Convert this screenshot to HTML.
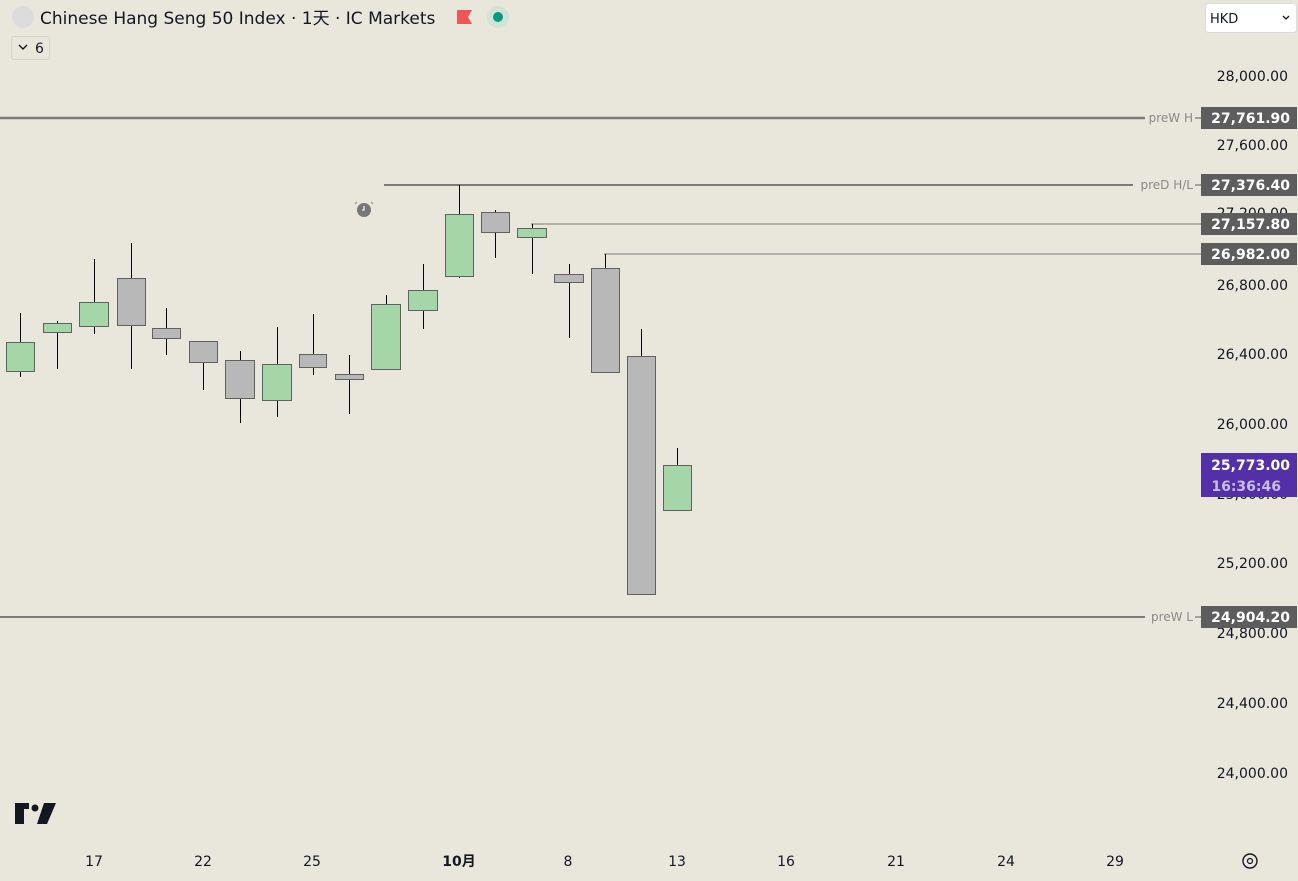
<!DOCTYPE html>
<html><head><meta charset="utf-8"><style>
html,body{margin:0;padding:0;width:1298px;height:881px;overflow:hidden;background:#e9e6dc;font-family:"DejaVu Sans","Noto Sans CJK SC",sans-serif}
</style></head><body>
<svg id="s" width="1298" height="881" xmlns="http://www.w3.org/2000/svg" style="position:absolute;left:0;top:0">
<rect width="1298" height="881" fill="#e9e6dc"/>
<circle cx="23" cy="17" r="11" fill="#dcdcdc"/>
<text x="40" y="24" font-size="17" fill="#131722" font-family="DejaVu Sans,Noto Sans CJK SC,sans-serif">Chinese Hang Seng 50 Index · 1天 · IC Markets</text>
<path d="M457 10h15l-4 7 4 7h-15z" fill="#f25555"/>
<circle cx="498" cy="17" r="11" fill="#cfe3d6"/>
<circle cx="498" cy="17" r="5" fill="#089981"/>
<rect x="11.5" y="36.5" width="38" height="23" rx="3" fill="#e9e6dc" stroke="#d8d5cc"/>
<path d="M19 45l4 4 4-4" stroke="#131722" stroke-width="1.4" fill="none"/>
<text x="35" y="53" font-size="14" fill="#131722">6</text>
<rect x="1205.5" y="3.5" width="91" height="29" rx="3" fill="#fff" stroke="#ddd"/>
<text x="1210" y="23" font-size="13" fill="#131722">HKD</text>
<path d="M1283 16l3 3 3-3" stroke="#131722" stroke-width="1.3" fill="none"/>
<g font-size="14" fill="#131722" text-anchor="end">
<text x="1288" y="81">28,000.00</text>
<text x="1288" y="150">27,600.00</text>
<text x="1288" y="218">27,200.00</text>
<text x="1288" y="290">26,800.00</text>
<text x="1288" y="359">26,400.00</text>
<text x="1288" y="429">26,000.00</text>
<text x="1288" y="499">25,600.00</text>
<text x="1288" y="568">25,200.00</text>
<text x="1288" y="638">24,800.00</text>
<text x="1288" y="708">24,400.00</text>
<text x="1288" y="778">24,000.00</text>
</g>
<line x1="0" y1="118" x2="1145" y2="118" stroke="#7a7a7a" stroke-width="2.5"/>
<line x1="384" y1="185" x2="1133" y2="185" stroke="#7a7a7a" stroke-width="2"/>
<line x1="531" y1="224" x2="1201" y2="224" stroke="#7a7a7a" stroke-width="1"/>
<line x1="604" y1="254" x2="1201" y2="254" stroke="#7a7a7a" stroke-width="1"/>
<line x1="0" y1="617" x2="1145" y2="617" stroke="#7a7a7a" stroke-width="2"/>
<g font-size="12" fill="#8a8a8a" text-anchor="end">
<text x="1193" y="122">preW H</text>
<text x="1193" y="189">preD H/L</text>
<text x="1193" y="621">preW L</text>
</g>
<line x1="1195" y1="118" x2="1201" y2="118" stroke="#888" stroke-width="1.5"/>
<line x1="1195" y1="185" x2="1201" y2="185" stroke="#888" stroke-width="1.5"/>
<line x1="1195" y1="617" x2="1201" y2="617" stroke="#888" stroke-width="1.5"/>
<g font-size="14" font-weight="bold" fill="#fff" text-anchor="end">
<rect x="1201" y="107" width="96" height="22" fill="#5d5d5d"/><text x="1290" y="123">27,761.90</text>
<rect x="1201" y="174" width="96" height="22" fill="#5d5d5d"/><text x="1290" y="190">27,376.40</text>
<rect x="1201" y="213" width="96" height="22" fill="#5d5d5d"/><text x="1290" y="229">27,157.80</text>
<rect x="1201" y="243" width="96" height="22" fill="#5d5d5d"/><text x="1290" y="259">26,982.00</text>
<rect x="1201" y="606" width="96" height="22" fill="#5d5d5d"/><text x="1290" y="622">24,904.20</text>
<rect x="1201" y="453" width="96" height="44" fill="#5330a8"/><text x="1290" y="470">25,773.00</text>
<text x="1281" y="491" fill="#c9bce8">16:36:46</text>
</g>
<circle cx="364" cy="210" r="7" fill="#777"/>
<path d="M364 206v4h-2" stroke="#eee" stroke-width="1.3" fill="none"/>
<path d="M357 202l-2 2M371 202l2 2" stroke="#999" stroke-width="1.2"/>
<g id="c"></g>
<path d="M15 803h14v6h-5v15h-9z" fill="#131722"/>
<circle cx="35" cy="808" r="3.5" fill="#131722"/>
<path d="M44 803h12l-9 21h-10z" fill="#131722"/>
<g font-size="14" fill="#131722" text-anchor="middle">
<text x="94" y="866">17</text><text x="203" y="866">22</text><text x="312" y="866">25</text>
<text x="459" y="866" font-weight="bold">10月</text><text x="568" y="866">8</text><text x="677" y="866">13</text>
<text x="786" y="866">16</text><text x="896" y="866">21</text><text x="1006" y="866">24</text><text x="1115" y="866">29</text>
</g>
<circle cx="1250" cy="861" r="7" fill="none" stroke="#131722" stroke-width="1.4"/>
<circle cx="1250" cy="861" r="2.5" fill="none" stroke="#131722" stroke-width="1.2"/>
</svg>
<script>
var d=[[6,34,342,371,313,377,1],[43,71,323,332,321,369,1],[79,108,302,326,259,334,1],[117,145,278,325,243,369,0],[152,180,328,338,308,355,0],[189,217,341,362,341,390,0],[225,254,360,398,351,423,0],[262,291,364,400,327,417,1],[299,326,354,367,314,375,0],[335,363,374,379,355,414,0],[371,400,304,369,295,369,1],[408,437,290,310,264,329,1],[445,473,214,276,185,278,1],[481,509,212,232,210,258,0],[517,546,228,237,224,274,1],[554,583,274,282,264,338,0],[591,619,268,372,254,372,0],[627,655,356,594,329,594,0],[663,691,465,510,448,510,1]];
var g=document.getElementById('c'),h='';
d.forEach(function(c){var cx=Math.round((c[0]+c[1])/2)+0.5;
h+='<line x1="'+cx+'" y1="'+c[4]+'" x2="'+cx+'" y2="'+c[5]+'" stroke="#000" stroke-width="1"/>';
h+='<rect x="'+(c[0]+0.5)+'" y="'+(c[2]+0.5)+'" width="'+(c[1]-c[0])+'" height="'+(c[3]-c[2])+'" fill="'+(c[6]?'#a5d6a7':'#b8b8b8')+'" stroke="#616161" stroke-width="1"/>';});
g.innerHTML=h;
</script>
</body></html>
